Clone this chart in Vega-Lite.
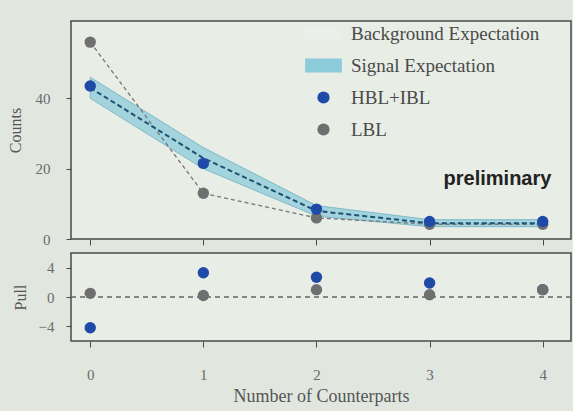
{
  "$schema": "https://vega.github.io/schema/vega-lite/v6.json",
  "background": "#e1e7df",
  "padding": {"left": 6, "top": 20, "right": 0, "bottom": 5},
  "config": {
    "font": "Liberation Serif",
    "view": {"stroke": "#4a4a4a", "strokeWidth": 1.5, "fill": "#e8ede6"},
    "axis": {"labelFont": "Liberation Serif", "titleFont": "Liberation Serif", "labelColor": "#6a6a6a", "titleColor": "#555", "labelFontSize": 15, "titleFontSize": 16, "titleFontWeight": "normal", "tickColor": "#4a4a4a", "grid": false, "domain": false},
    "concat": {"spacing": 4}
  },
  "datasets": {
    "signal": [
      {"x": 0, "sig": 43, "lo": 40, "hi": 46},
      {"x": 1, "sig": 23, "lo": 20, "hi": 26},
      {"x": 2, "sig": 8, "lo": 6.5, "hi": 9.5},
      {"x": 3, "sig": 4.5, "lo": 3.5, "hi": 5.5},
      {"x": 4, "sig": 4.5, "lo": 3.5, "hi": 5.5}
    ],
    "counts": [
      {"x": 0, "series": "LBL", "counts": 56},
      {"x": 1, "series": "LBL", "counts": 13},
      {"x": 2, "series": "LBL", "counts": 6},
      {"x": 3, "series": "LBL", "counts": 4.2},
      {"x": 4, "series": "LBL", "counts": 4.2},
      {"x": 0, "series": "HBL+IBL", "counts": 43.5},
      {"x": 1, "series": "HBL+IBL", "counts": 21.5},
      {"x": 2, "series": "HBL+IBL", "counts": 8.5},
      {"x": 3, "series": "HBL+IBL", "counts": 5},
      {"x": 4, "series": "HBL+IBL", "counts": 5}
    ],
    "pull": [
      {"x": 0, "series": "HBL+IBL", "pull": -4.2},
      {"x": 1, "series": "HBL+IBL", "pull": 3.3},
      {"x": 2, "series": "HBL+IBL", "pull": 2.7},
      {"x": 3, "series": "HBL+IBL", "pull": 1.9},
      {"x": 4, "series": "HBL+IBL", "pull": 1.0},
      {"x": 0, "series": "LBL", "pull": 0.5},
      {"x": 1, "series": "LBL", "pull": 0.2},
      {"x": 2, "series": "LBL", "pull": 1.0},
      {"x": 3, "series": "LBL", "pull": 0.3},
      {"x": 4, "series": "LBL", "pull": 1.0}
    ]
  },
  "vconcat": [
    {
      "width": 500,
      "height": 218,
      "layer": [
        {
          "data": {"name": "signal"},
          "mark": {"type": "area", "color": "#8ccbd9", "opacity": 0.75, "stroke": "#5fa9c0", "strokeWidth": 1},
          "encoding": {
            "x": {"field": "x", "type": "quantitative", "scale": {"domain": [-0.17, 4.25], "nice": false}, "axis": {"values": [0, 1, 2, 3, 4], "labels": false, "title": null, "tickSize": 6}},
            "y": {"field": "lo", "type": "quantitative", "scale": {"domain": [0, 62], "nice": false}, "axis": {"values": [0, 20, 40], "title": "Counts", "labelPadding": 16, "titlePadding": 12}},
            "y2": {"field": "hi"}
          }
        },
        {
          "data": {"name": "counts"},
          "transform": [{"filter": "datum.series === 'LBL'"}],
          "mark": {"type": "line", "color": "#777", "strokeDash": [4, 3], "strokeWidth": 1.3},
          "encoding": {
            "x": {"field": "x", "type": "quantitative"},
            "y": {"field": "counts", "type": "quantitative"}
          }
        },
        {
          "data": {"name": "signal"},
          "mark": {"type": "line", "color": "#1e5272", "strokeDash": [5, 3], "strokeWidth": 2},
          "encoding": {
            "x": {"field": "x", "type": "quantitative"},
            "y": {"field": "sig", "type": "quantitative"}
          }
        },
        {
          "data": {"name": "counts"},
          "mark": {"type": "point", "filled": true, "opacity": 1, "size": 130},
          "encoding": {
            "x": {"field": "x", "type": "quantitative"},
            "y": {"field": "counts", "type": "quantitative"},
            "color": {
              "field": "series", "type": "nominal",
              "scale": {"domain": ["Background Expectation", "Signal Expectation", "HBL+IBL", "LBL"], "range": ["#eceeea", "#8ccbd9", "#1f4aa8", "#6f6f6f"]},
              "legend": {"orient": "none", "legendX": 243, "legendY": 3, "title": null, "labelFont": "Liberation Serif", "labelFontSize": 19, "labelColor": "#4a4a4a", "labelLimit": 400, "symbolSize": 150, "symbolStrokeWidth": 0, "symbolOpacity": 1, "rowPadding": 12, "labelOffset": 18}
            },
            "shape": {
              "field": "series", "type": "nominal",
              "scale": {"domain": ["Background Expectation", "Signal Expectation", "HBL+IBL", "LBL"], "range": ["M-3,-1.15H3V1.15H-3Z", "M-3,-1.15H3V1.15H-3Z", "circle", "circle"]}
            }
          }
        },
        {
          "data": {"values": [{}]},
          "mark": {"type": "text", "font": "Liberation Sans", "fontWeight": "bold", "fontSize": 20, "color": "#222"},
          "encoding": {
            "x": {"datum": 3.6, "type": "quantitative"},
            "y": {"datum": 17, "type": "quantitative"},
            "text": {"value": "preliminary"}
          }
        }
      ]
    },
    {
      "width": 500,
      "height": 88,
      "layer": [
        {
          "data": {"values": [{}]},
          "mark": {"type": "rule", "color": "#666", "strokeDash": [5, 4], "strokeWidth": 1.3},
          "encoding": {"y": {"datum": 0, "type": "quantitative"}}
        },
        {
          "data": {"name": "pull"},
          "mark": {"type": "point", "filled": true, "opacity": 1, "size": 130},
          "encoding": {
            "x": {"field": "x", "type": "quantitative", "scale": {"domain": [-0.17, 4.25], "nice": false}, "axis": {"values": [0, 1, 2, 3, 4], "title": "Number of Counterparts", "titleFontSize": 18, "labelPadding": 20, "titlePadding": 5, "tickSize": 6}},
            "y": {"field": "pull", "type": "quantitative", "scale": {"domain": [-6, 6], "nice": false}, "axis": {"values": [-4, 0, 4], "title": "Pull", "labelPadding": 12, "titlePadding": 10}},
            "color": {"field": "series", "type": "nominal", "legend": null},
            "shape": {"field": "series", "type": "nominal", "legend": null}
          }
        }
      ]
    }
  ]
}
